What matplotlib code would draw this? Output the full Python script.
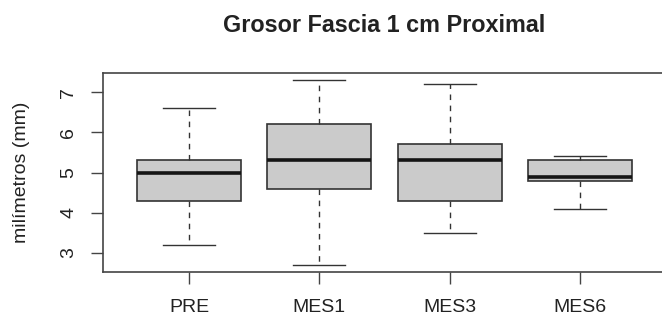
import matplotlib
matplotlib.use("Agg")
import matplotlib.pyplot as plt

plt.rcParams['font.family'] = ['Liberation Sans', 'DejaVu Sans']

categories = ["PRE", "MES1", "MES3", "MES6"]
whisker_low = [3.2, 2.7, 3.5, 4.1]
q1 = [4.3, 4.6, 4.3, 4.8]
median = [5.0, 5.3, 5.3, 4.9]
q3 = [5.3, 6.2, 5.7, 5.3]
whisker_high = [6.6, 7.3, 7.2, 5.4]
yticks = [3, 4, 5, 6, 7]

title = "Grosor Fascia 1 cm Proximal"
ylabel = "milímetros (mm)"

W, H = 662, 318
fig = plt.figure(figsize=(W / 100, H / 100), dpi=100)
ax = fig.add_axes([103 / W, 1 - 272 / H, 563 / W, (272 - 73) / H])

stats = []
for i, c in enumerate(categories):
    stats.append(dict(label=c, whislo=whisker_low[i], q1=q1[i], med=median[i],
                      q3=q3[i], whishi=whisker_high[i], fliers=[]))

edge = "#333333"
ax.bxp(stats, positions=range(1, len(categories) + 1), widths=0.8,
       patch_artist=True, showfliers=False,
       boxprops=dict(facecolor="#cbcbcb", edgecolor=edge, linewidth=1.2),
       medianprops=dict(color="#151515", linewidth=2.6, solid_capstyle="butt"),
       whiskerprops=dict(color=edge, linewidth=1.0, linestyle=(0, (4, 4))),
       capprops=dict(color=edge, linewidth=1.0),
       capwidths=0.4)

ax.set_xlim(0.34, 4.66)
ax.set_ylim(2.516, 7.484)
ax.set_yticks(yticks)
ax.set_yticklabels([str(v) for v in yticks], rotation=90, va="center")
ax.set_xticks(range(1, len(categories) + 1))
ax.set_xticklabels(categories)

for s in ax.spines.values():
    s.set_color("#444444")
    s.set_linewidth(1.2)

ax.tick_params(axis="both", direction="out", length=8.5, width=1.0,
               color="#444444", labelsize=14, labelcolor="#222222")
ax.tick_params(axis="y", pad=10)
ax.tick_params(axis="x", pad=11)

ax.set_ylabel(ylabel, fontsize=14, color="#222222", va="center")
ax.yaxis.set_label_coords((22 - 103) / 563, 0.5)

fig.text((103 + 666) / 2 / W, 1 - 26 / H, title, ha="center", va="center",
         fontsize=16.8, fontweight="bold", color="#222222")

fig.savefig("out.png", dpi=100)
